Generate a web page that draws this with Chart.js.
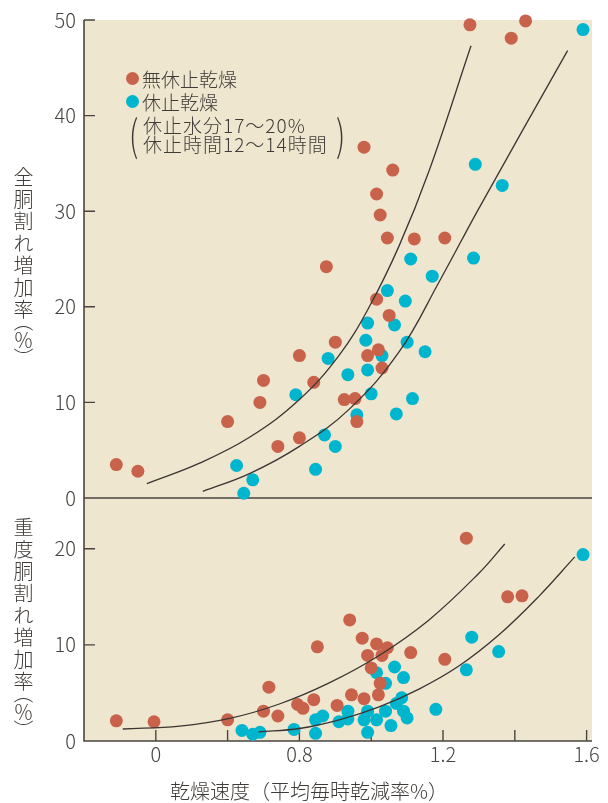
<!DOCTYPE html>
<html lang="ja">
<head>
<meta charset="utf-8">
<script src="https://cdn.jsdelivr.net/npm/chart.js@4"></script>
<style>
  html, body { margin: 0; padding: 0; background: #fff; }
  #wrap { position: relative; width: 608px; height: 803px; }
  #chart { position: absolute; left: 0; top: 0; }
  .txt { position: absolute; font-family: 'Noto Sans CJK JP', sans-serif; font-size: 19px; line-height: 19px;
         color: #3f3b38; white-space: nowrap; font-weight: 300; }
  .note { letter-spacing: 1px; }
  .dot { position: absolute; width: 13px; height: 13px; border-radius: 50%; }
  .vt { writing-mode: vertical-rl; font-size: 20px; line-height: 20px; letter-spacing: 2px; }
  .vt span { font-feature-settings: "vpal" 1; letter-spacing: 0; }
  .paren { font-size: 42px; line-height: 42px; font-weight: 200; transform: scaleX(0.7); }
</style>
</head>
<body>
<div id="wrap">
  <canvas id="chart" width="608" height="803"></canvas>

  <div class="dot" style="left:126px; top:72px; background:#c8624b;"></div>
  <div class="txt" style="left:142px; top:69px;">無休止乾燥</div>
  <div class="dot" style="left:126px; top:95px; background:#00b6cf;"></div>
  <div class="txt" style="left:142px; top:92px;">休止乾燥</div>
  <div class="txt paren" style="left:127px; top:112px;">(</div>
  <div class="txt note" style="left:143px; top:115px;">休止水分17〜20%</div>
  <div class="txt note" style="left:143px; top:134px;">休止時間12〜14時間</div>
  <div class="txt paren" style="left:334px; top:112px;">)</div>

  <div class="txt vt" style="left:13px; top:167px;">全胴割れ増加率<span>（％）</span></div>
  <div class="txt vt" style="left:13px; top:517px;">重度胴割れ増加率<span>（％）</span></div>
  <div class="txt" style="left:170px; top:781px; font-size:20px; line-height:20px;">乾燥速度（平均毎時乾減率%）</div>
</div>

<script>
// x axis ticks (the printed labels are kept as they appear)
const xTickValues = [0.4, 0.6, 0.8, 1.0, 1.2, 1.4, 1.6];
const xTickLabels = ['0', '', '0.8', '', '1.2', '', '1.6'];
const topYTicks = [0, 10, 20, 30, 40, 50];
const bottomYTicks = [0, 10, 20];

// upper panel: 全胴割れ増加率
const topRedX = [0.29, 0.35, 0.60, 0.69, 0.70, 0.74, 0.80, 0.80, 0.84, 0.875, 0.90, 0.925, 0.955, 0.96, 0.98,
  0.99, 1.015, 1.015, 1.025, 1.02, 1.03, 1.045, 1.05, 1.06, 1.12, 1.205, 1.275, 1.39, 1.43];
const topRedY = [3.5, 2.8, 8.0, 10.0, 12.3, 5.4, 14.9, 6.3, 12.1, 24.2, 16.3, 10.3, 10.4, 8.0, 36.7,
  14.9, 20.8, 31.8, 29.6, 15.5, 13.6, 27.2, 19.1, 34.3, 27.1, 27.2, 49.5, 48.1, 49.9];
const topCyanX = [0.625, 0.67, 0.645, 0.79, 0.845, 0.87, 0.88, 0.90, 0.935, 0.96, 0.985, 0.99, 0.99, 1.0,
  1.03, 1.045, 1.065, 1.07, 1.095, 1.10, 1.11, 1.115, 1.15, 1.17, 1.285, 1.29, 1.365, 1.59];
const topCyanY = [3.4, 1.9, 0.5, 10.8, 3.0, 6.6, 14.6, 5.4, 12.9, 8.7, 16.5, 18.3, 13.4, 10.9,
  14.9, 21.7, 18.1, 8.8, 20.6, 16.3, 25.0, 10.4, 15.3, 23.2, 25.1, 34.9, 32.7, 49.0];
const topRedFitX = [0.375, 0.522, 0.661, 0.80, 0.911, 0.994, 1.078, 1.161, 1.278];
const topRedFitY = [1.5, 3.65, 6.35, 10.3, 14.95, 19.95, 26.4, 34.2, 47.3];
const topCyanFitX = [0.531, 0.661, 0.80, 0.939, 1.078, 1.189, 1.30, 1.547];
const topCyanFitY = [0.7, 2.55, 5.4, 9.3, 15.3, 22.6, 30.3, 46.8];

// lower panel: 重度胴割れ増加率
const bottomRedX = [0.29, 0.395, 0.60, 0.70, 0.715, 0.74, 0.795, 0.81, 0.84, 0.85, 0.905, 0.94, 0.945, 0.975,
  0.98, 0.99, 1.0, 1.015, 1.025, 1.02, 1.03, 1.045, 1.11, 1.205, 1.265, 1.38, 1.42];
const bottomRedY = [2.1, 2.0, 2.2, 3.1, 5.6, 2.6, 3.8, 3.4, 4.3, 9.8, 3.7, 12.6, 4.8, 10.7,
  4.4, 8.9, 7.6, 10.1, 6.0, 4.8, 8.9, 9.7, 9.2, 8.5, 21.1, 15.0, 15.1];
const bottomCyanX = [0.64, 0.67, 0.69, 0.785, 0.845, 0.865, 0.845, 0.91, 0.935, 0.935, 0.98, 0.99, 0.99, 1.015,
  1.04, 1.055, 1.015, 1.04, 1.065, 1.09, 1.07, 1.085, 1.09, 1.10, 1.18, 1.265, 1.28, 1.355, 1.59];
const bottomCyanY = [1.1, 0.7, 0.9, 1.2, 2.2, 2.6, 0.8, 2.0, 3.1, 2.3, 2.2, 0.9, 3.1, 2.2,
  3.1, 1.6, 7.1, 6.0, 7.7, 6.6, 3.9, 4.5, 3.1, 2.4, 3.3, 7.4, 10.8, 9.3, 19.4];
const bottomRedFitX = [0.308, 0.467, 0.606, 0.744, 0.883, 1.022, 1.161, 1.30, 1.372];
const bottomRedFitY = [1.25, 1.55, 2.35, 3.85, 6.05, 8.9, 12.6, 17.45, 20.5];
const bottomCyanFitX = [0.686, 0.80, 0.911, 1.022, 1.133, 1.244, 1.356, 1.467, 1.567];
const bottomCyanFitY = [0.95, 1.3, 2.2, 3.55, 5.4, 7.8, 11.05, 15.05, 19.15];

const RED = '#c8624b';
const CYAN = '#00b6cf';
const INK = '#4a4541';
const BG = '#efe6cf';
const FONT = "'Noto Sans CJK JP', sans-serif";

function pts(xs, ys) {
  return xs.map((x, i) => ({ x: x, y: ys[i] }));
}

function dots(xs, ys, color, axis) {
  return {
    type: 'scatter', data: pts(xs, ys), yAxisID: axis,
    backgroundColor: color, borderWidth: 0, pointRadius: 6.5, pointHoverRadius: 6.5,
    clip: false, order: 2
  };
}

function curve(xs, ys, axis) {
  return {
    type: 'line', data: pts(xs, ys), yAxisID: axis,
    borderColor: '#3a3532', borderWidth: 1.3, pointRadius: 0, fill: false,
    tension: 0.4, order: 1
  };
}

// beige panel, axis lines and the inward tick marks
const panelFrame = {
  id: 'panelFrame',
  beforeDatasetsDraw(chart) {
    const { ctx, chartArea: a, scales } = chart;
    ctx.save();
    ctx.fillStyle = BG;
    ctx.fillRect(a.left, a.top, a.right - a.left, a.bottom - a.top);
    ctx.strokeStyle = INK;
    ctx.lineWidth = 1.6;
    ctx.beginPath();
    const y0 = scales.yt.getPixelForValue(0);
    ctx.moveTo(a.left, y0); ctx.lineTo(a.right, y0);
    ctx.moveTo(a.left, a.top); ctx.lineTo(a.left, a.bottom); ctx.lineTo(a.right, a.bottom);
    ctx.stroke();

    ctx.lineWidth = 1.4;
    ctx.beginPath();
    topYTicks.forEach(v => {
      if (v === 0) return;
      const y = scales.yt.getPixelForValue(v);
      ctx.moveTo(a.left, y); ctx.lineTo(a.left + 11, y);
    });
    bottomYTicks.forEach(v => {
      if (v === 0) return;
      const y = scales.yb.getPixelForValue(v);
      ctx.moveTo(a.left, y); ctx.lineTo(a.left + 11, y);
    });
    xTickValues.forEach(v => {
      const x = scales.x.getPixelForValue(v);
      ctx.moveTo(x, a.bottom); ctx.lineTo(x, a.bottom - 11);
    });
    ctx.stroke();
    ctx.restore();
  }
};

const tickFont = { family: FONT, size: 20, weight: 300 };

function yScale(ticks, max, weight) {
  return {
    type: 'linear', position: 'left', stack: 'panels', stackWeight: weight,
    min: 0, max: max,
    afterBuildTicks: s => { s.ticks = ticks.map(v => ({ value: v })); },
    afterFit: s => { s.width = 84; },
    ticks: { font: tickFont, color: INK, padding: 8 },
    grid: { display: false, drawTicks: false },
    border: { display: false }
  };
}

new Chart(document.getElementById('chart').getContext('2d'), {
  data: {
    datasets: [
      dots(topRedX, topRedY, RED, 'yt'),
      dots(topCyanX, topCyanY, CYAN, 'yt'),
      dots(bottomRedX, bottomRedY, RED, 'yb'),
      dots(bottomCyanX, bottomCyanY, CYAN, 'yb'),
      curve(topRedFitX, topRedFitY, 'yt'),
      curve(topCyanFitX, topCyanFitY, 'yt'),
      curve(bottomRedFitX, bottomRedFitY, 'yb'),
      curve(bottomCyanFitX, bottomCyanFitY, 'yb')
    ]
  },
  options: {
    responsive: false,
    animation: false,
    devicePixelRatio: 1,
    layout: { padding: { top: 17, right: 16, left: 0, bottom: 0 } },
    plugins: {
      legend: { display: false },
      tooltip: { enabled: false }
    },
    scales: {
      x: {
        type: 'linear', min: 0.2, max: 1.615,
        afterBuildTicks: s => { s.ticks = xTickValues.map(v => ({ value: v })); },
        afterFit: s => { s.height = 62; },
        ticks: {
          callback: (v, i) => xTickLabels[i],
          font: tickFont, color: INK, padding: 1, maxRotation: 0, autoSkip: false
        },
        grid: { display: false, drawTicks: false },
        border: { display: false }
      },
      yb: yScale(bottomYTicks, 25.28, 244),
      yt: yScale(topYTicks, 50, 480)
    }
  },
  plugins: [panelFrame]
});
</script>
</body>
</html>
